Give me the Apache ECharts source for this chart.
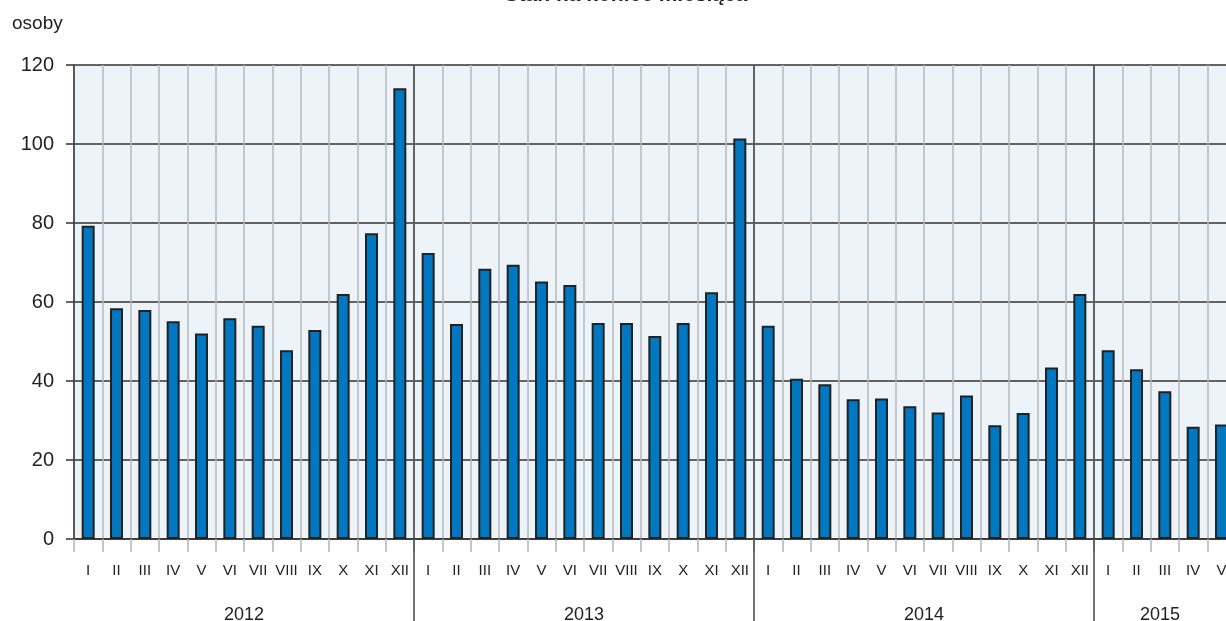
<!DOCTYPE html>
<html>
<head>
<meta charset="utf-8">
<script src="https://cdn.jsdelivr.net/npm/echarts@6/dist/echarts.min.js"></script>
<style>
html,body{margin:0;padding:0;background:#fff;overflow:hidden;width:1226px;height:621px;}
#chart{width:1460px;height:621px;}
</style>
</head>
<body>
<div id="chart"></div>
<script>
var years = ['2012', '2013', '2014', '2015'];
var months = ['I', 'II', 'III', 'IV', 'V', 'VI', 'VII', 'VIII', 'IX', 'X', 'XI', 'XII'];
var values2012 = [79.3, 58.4, 58.0, 55.1, 52.0, 55.9, 54.0, 47.8, 52.9, 62.0, 77.4, 114.1];
var values2013 = [72.4, 54.4, 68.4, 69.4, 65.2, 64.3, 54.7, 54.7, 51.4, 54.7, 62.5, 101.4];
var values2014 = [54.0, 40.6, 39.2, 35.4, 35.6, 33.6, 32.0, 36.3, 28.8, 31.9, 43.4, 62.0];
var values2015 = [47.8, 43.0, 37.4, 28.4, 29.0, null, null, null, null, null, null, null];
var yTicks = [0, 20, 40, 60, 80, 100, 120];
var titleText = 'Stan na koniec miesiąca';
var yUnit = 'osoby';

var categories = [];
years.forEach(function (y) { months.forEach(function (m) { categories.push(y + '|' + m); }); });
var values = [].concat(values2012, values2013, values2014, values2015);

var W = 1226;            // visible window width
var gridLeft = 74;
var catW = 340 / 12;
var total = categories.length;
var gridWidth = catW * total;
// year label centres (last group centred on its visible part)
var visibleCats = (W - gridLeft) / catW;
var yearCenters = years.map(function (y, i) {
  var start = i * 12, end = Math.min((i + 1) * 12, visibleCats);
  return (start + end) / 2;
});

var chart = echarts.init(document.getElementById('chart'));
var font = '"Liberation Sans", Arial, Helvetica, sans-serif';
chart.setOption({
  animation: false,
  backgroundColor: '#ffffff',
  textStyle: { fontFamily: font },
  title: [
    { text: titleText, left: 621, textAlign: 'center', top: -20, textStyle: { fontSize: 21, fontWeight: 'bold', color: '#222', fontFamily: font } },
    { text: yUnit, left: 7, top: 9, textStyle: { fontSize: 19, fontWeight: 'normal', color: '#222', fontFamily: font } }
  ],
  grid: {
    left: gridLeft, top: 65, height: 474, width: gridWidth,
    outerBoundsMode: 'none', containLabel: false,
    show: true, backgroundColor: '#ECF4FA', borderWidth: 0
  },
  xAxis: [
    {
      type: 'category',
      data: categories,
      boundaryGap: true,
      axisLine: { show: true, lineStyle: { color: '#333', width: 1.5 } },
      axisTick: { show: true, interval: 0, length: 13, lineStyle: { color: '#b4b4b4', width: 1.5 } },
      splitLine: { show: true, interval: 0, lineStyle: { color: '#b8b8b8', width: 1.5 } },
      axisLabel: {
        interval: 0, margin: 24, fontSize: 15, color: '#222', fontFamily: font,
        formatter: function (v) { return v.split('|')[1]; }
      }
    },
    {
      type: 'value',
      min: 0, max: total, interval: 12,
      position: 'bottom',
      axisLine: { show: false },
      axisTick: { show: true, customValues: [12, 24, 36], length: 90, lineStyle: { color: '#444', width: 1.5 } },
      splitLine: { show: true, lineStyle: { color: '#444', width: 1.5 } },
      axisLabel: {
        customValues: yearCenters, margin: 67, fontSize: 18, color: '#222', fontFamily: font,
        formatter: function (v) {
          var idx = yearCenters.indexOf(v);
          return idx >= 0 ? years[idx] : '';
        }
      }
    }
  ],
  yAxis: {
    type: 'value',
    min: yTicks[0], max: yTicks[yTicks.length - 1], interval: 20,
    axisLine: { show: true, lineStyle: { color: '#333', width: 1.5 } },
    axisTick: { show: true, length: 8, lineStyle: { color: '#333', width: 1.5 } },
    splitLine: { show: true, lineStyle: { color: '#333', width: 1.5 } },
    axisLabel: { margin: 20, fontSize: 20, color: '#222', fontFamily: font }
  },
  series: [{
    type: 'bar',
    xAxisIndex: 0,
    data: values,
    barWidth: 13,
    itemStyle: { color: '#0078C1', borderColor: '#222', borderWidth: 2 }
  }]
});
</script>
</body>
</html>
